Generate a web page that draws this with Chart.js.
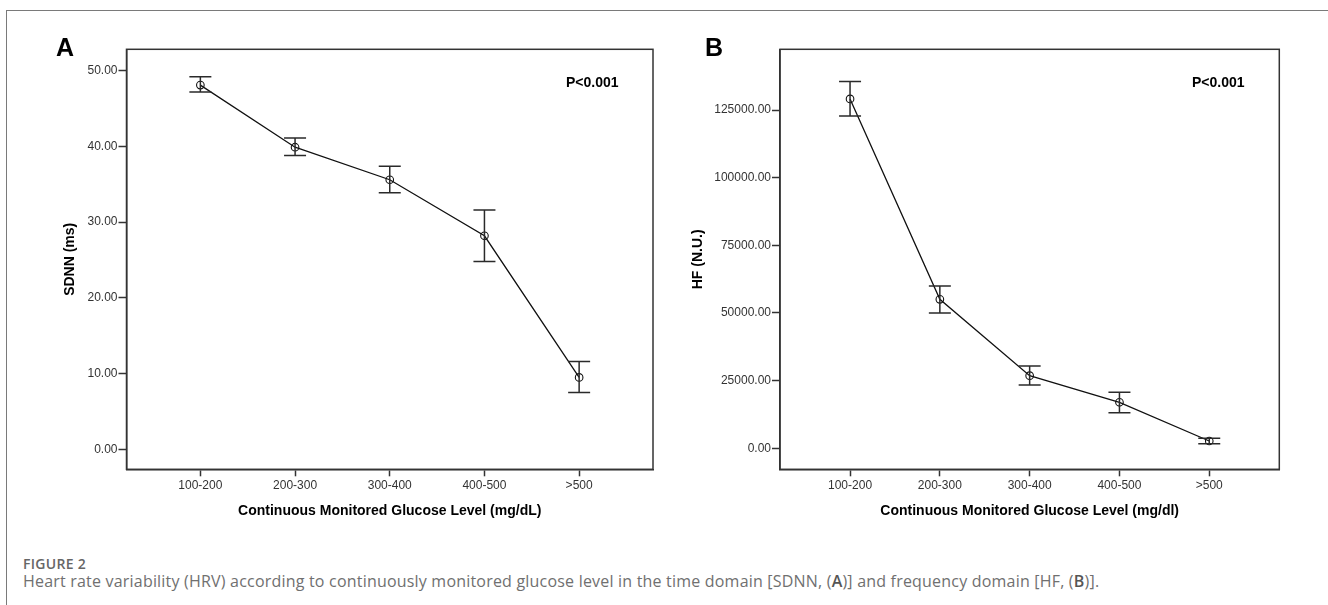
<!DOCTYPE html>
<html>
<head>
<meta charset="utf-8">
<script src="https://cdn.jsdelivr.net/npm/chart.js@4.4.0/dist/chart.umd.min.js"></script>
<style>
  body { margin: 0; background: #fff; width: 1328px; height: 605px; overflow: hidden; position: relative; }
  #frame { position: absolute; left: 6px; top: 10px; width: 1340px; height: 620px;
           border-top: 1px solid #7a7a7a; border-left: 1px solid #7a7a7a; }
  .panel { position: absolute; top: 0; width: 664px; height: 530px; }
  #wrapA { left: 0; }
  #wrapB { left: 664px; }
  #figLabel { position: absolute; left: 23px; top: 557px; font: 600 14px "Open Sans", sans-serif;
              line-height: 13px; color: #666; letter-spacing: 0.3px; }
  #caption { position: absolute; left: 23px; top: 574px; font: 16px "Open Sans", sans-serif;
             line-height: 15px; color: #707070; white-space: nowrap; letter-spacing: 0.2px; }
  #caption b { font-weight: 600; color: #555; }
</style>
</head>
<body>
<div id="frame"></div>
<div class="panel" id="wrapA"><canvas id="chartA" width="664" height="530"></canvas></div>
<div class="panel" id="wrapB"><canvas id="chartB" width="664" height="530"></canvas></div>
<div id="figLabel">FIGURE 2</div>
<div id="caption">Heart rate variability (HRV) according to continuously monitored glucose level in the time domain [SDNN, (<b>A</b>)] and frequency domain [HF, (<b>B</b>)].</div>

<script>
// glucose bands on the x axis
const categories = ['100-200', '200-300', '300-400', '400-500', '>500'];

// panel A: SDNN (ms), mean and error bar ends
const sdnnMean = [48.1, 39.9, 35.6, 28.2, 9.5];
const sdnnLow = [47.2, 38.8, 33.9, 24.8, 7.5];
const sdnnHigh = [49.2, 41.1, 37.4, 31.6, 11.6];
const sdnnTicks = [0, 10, 20, 30, 40, 50];

// panel B: HF (N.U.), mean and error bar ends
const hfMean = [129100, 55050, 26850, 17000, 2700];
const hfLow = [122800, 50000, 23400, 13150, 1650];
const hfHigh = [135500, 59950, 30400, 20700, 3700];
const hfTicks = [0, 25000, 50000, 75000, 100000, 125000];

const FONT = '"Liberation Sans", Arial, sans-serif';
const AXIS = '#333';

// error bars + closed plot box + panel letter and p value
const extras = {
  id: 'extras',
  afterDatasetsDraw(chart, args, opts) {
    const ctx = chart.ctx;
    const x = chart.scales.x, y = chart.scales.y;
    ctx.save();
    ctx.strokeStyle = '#2a2a2a';
    ctx.lineWidth = 1.5;
    opts.low.forEach((lo, i) => {
      const px = x.getPixelForValue(i + 1);
      const y1 = y.getPixelForValue(lo);
      const y2 = y.getPixelForValue(opts.high[i]);
      ctx.beginPath();
      ctx.moveTo(px, y1); ctx.lineTo(px, y2);
      ctx.moveTo(px - 11, y1); ctx.lineTo(px + 11, y1);
      ctx.moveTo(px - 11, y2); ctx.lineTo(px + 11, y2);
      ctx.stroke();
    });
    ctx.restore();
  },
  afterDraw(chart, args, opts) {
    const ctx = chart.ctx;
    const a = chart.chartArea;
    ctx.save();
    ctx.strokeStyle = AXIS;
    ctx.lineWidth = 1.5;
    ctx.strokeRect(a.left, a.top, a.right - a.left, a.bottom - a.top);
    ctx.fillStyle = '#000';
    ctx.textBaseline = 'alphabetic';
    ctx.font = 'bold 25px ' + FONT;
    ctx.fillText(opts.letter, opts.letterX, 56);
    ctx.font = 'bold 14px ' + FONT;
    ctx.fillText('P<0.001', opts.pX, 87);
    ctx.restore();
  }
};

function makeChart(id, mean, low, high, yMin, yMax, yTicks, yTitle, xTitle, yWidth, yTitlePad, padRight, letter, letterX, pX) {
  const pts = mean.map((v, i) => ({ x: i + 1, y: v }));
  return new Chart(document.getElementById(id), {
    type: 'line',
    data: {
      datasets: [{
        data: pts,
        borderColor: '#111',
        borderWidth: 1.3,
        pointStyle: 'circle',
        pointRadius: 3.8,
        pointBorderWidth: 1.1,
        pointBorderColor: '#111',
        pointBackgroundColor: 'rgba(0,0,0,0)',
        tension: 0
      }]
    },
    options: {
      responsive: false,
      animation: false,
      layout: { padding: { top: 49.3, right: padRight, left: 0, bottom: 0 } },
      plugins: {
        legend: { display: false },
        tooltip: { enabled: false },
        extras: { low: low, high: high, letter: letter, letterX: letterX, pX: pX }
      },
      scales: {
        x: {
          type: 'linear',
          min: 0.22,
          max: 5.78,
          afterFit(s) { s.height = 60.7; },
          afterBuildTicks(s) { s.ticks = categories.map((c, i) => ({ value: i + 1 })); },
          ticks: {
            autoSkip: false,
            maxRotation: 0,
            padding: 2,
            color: AXIS,
            font: { family: FONT, size: 12 },
            callback: v => categories[v - 1]
          },
          grid: { drawOnChartArea: false, tickLength: 7, tickColor: AXIS, tickWidth: 1.5 },
          border: { color: AXIS, width: 1.5 },
          title: {
            display: true, text: xTitle, color: '#000',
            font: { family: FONT, size: 14, weight: 'bold' },
            padding: { top: 0, bottom: 10 }
          }
        },
        y: {
          min: yMin,
          max: yMax,
          afterFit(s) { s.width = yWidth; },
          afterBuildTicks(s) { s.ticks = yTicks.map(v => ({ value: v })); },
          ticks: {
            autoSkip: false,
            padding: 1,
            color: AXIS,
            font: { family: FONT, size: 12 },
            callback: v => v.toFixed(2)
          },
          grid: { drawOnChartArea: false, tickLength: 8, tickColor: AXIS, tickWidth: 1.5 },
          border: { color: AXIS, width: 1.5 },
          title: {
            display: true, text: yTitle, color: '#000',
            font: { family: FONT, size: 14, weight: 'bold' },
            padding: { top: yTitlePad, bottom: 0 }
          }
        }
      }
    },
    plugins: [extras]
  });
}

makeChart('chartA', sdnnMean, sdnnLow, sdnnHigh, -2.64, 52.83, sdnnTicks,
  'SDNN (ms)', 'Continuous Monitored Glucose Level (mg/dL)', 126.5, 62, 11, 'A', 56, 566);
makeChart('chartB', hfMean, hfLow, hfHigh, -7760, 147430, hfTicks,
  'HF (N.U.)', 'Continuous Monitored Glucose Level (mg/dl)', 116, 25.5, 48.7, 'B', 41, 528);
</script>
</body>
</html>
